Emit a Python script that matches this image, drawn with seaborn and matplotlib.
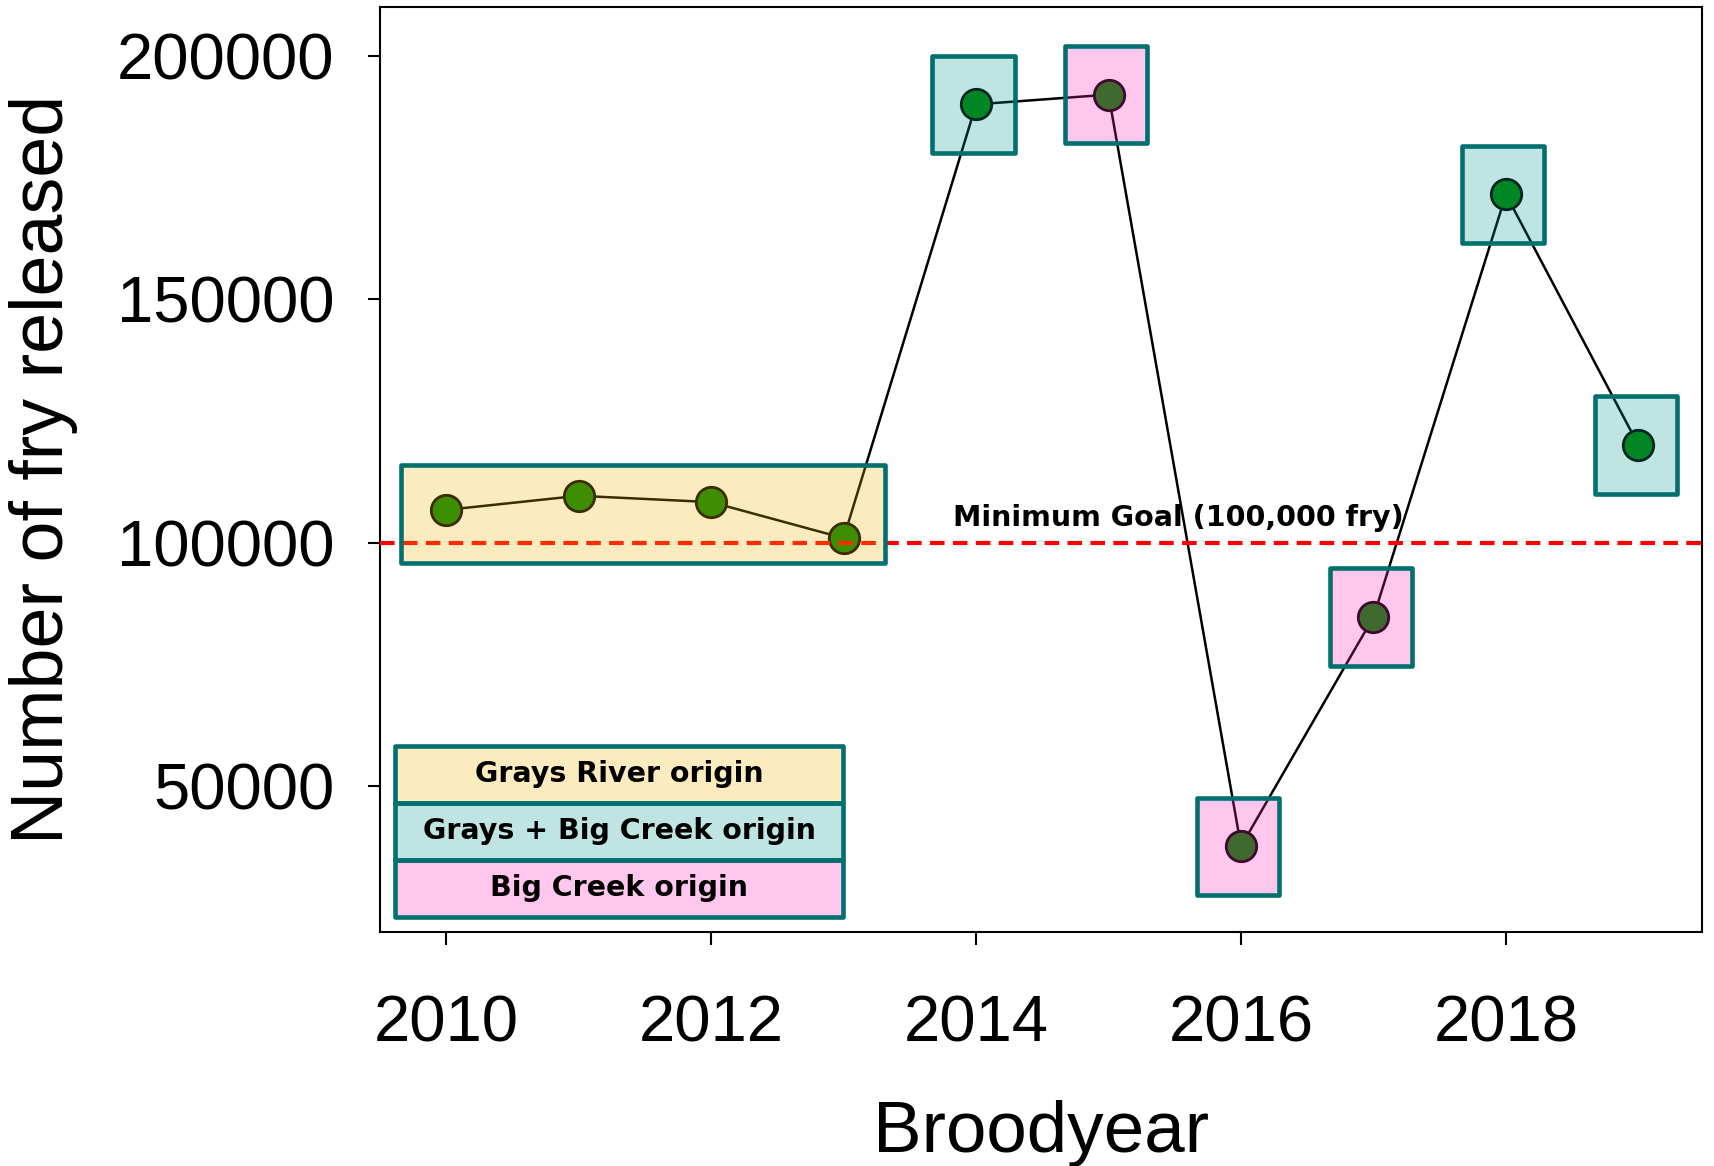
import matplotlib
matplotlib.use("Agg")
import matplotlib.pyplot as plt
import seaborn as sns
import pandas as pd
from matplotlib.patches import Rectangle

# Fry released per broodyear
broodyear = [2010, 2011, 2012, 2013, 2014, 2015, 2016, 2017, 2018, 2019]
fry_released = [106700, 109600, 108300, 100900, 190000, 192000, 37600, 84700, 171500, 120000]
origin = ["Grays River origin"] * 4 + [
    "Grays + Big Creek origin", "Big Creek origin", "Big Creek origin",
    "Big Creek origin", "Grays + Big Creek origin", "Grays + Big Creek origin"]

legend_labels = ["Grays River origin", "Grays + Big Creek origin", "Big Creek origin"]
legend_fills = [(0.97, 0.70, 0.0, 0.25), (0.0, 0.59, 0.56, 0.25), (1.0, 0.13, 0.73, 0.25)]
fill_by_origin = dict(zip(legend_labels, legend_fills))

goal = 100000
goal_label = "Minimum Goal (100,000 fry)"

df = pd.DataFrame({"year": broodyear, "fry": fry_released, "origin": origin})

sns.set_style("white")
plt.rcParams["font.family"] = ["Liberation Sans", "DejaVu Sans"]
plt.rcParams["text.color"] = "black"
plt.rcParams["axes.labelcolor"] = "black"
plt.rcParams["xtick.color"] = "black"
plt.rcParams["ytick.color"] = "black"

fig = plt.figure(figsize=(17.14, 11.66), dpi=100)
ax = fig.add_axes([0.2217, 0.2007, 0.7713, 0.7933])

edge = "#00706e"

# line + points
sns.lineplot(data=df, x="year", y="fry", color="black", linewidth=1.8, ax=ax, zorder=2)
sns.scatterplot(data=df, x="year", y="fry", color="#008200", edgecolor="black",
                linewidth=2.0, s=480, ax=ax, zorder=3)

# goal line
ax.axhline(goal, color="red", linestyle=(0, (3.5, 2)), linewidth=3, zorder=4)
ax.text(2015.53, goal + 5000, goal_label, ha="center", va="center", fontsize=20.5,
        fontweight="bold", family="DejaVu Sans", zorder=6)

# translucent origin boxes over the points
grays = df[df["origin"] == "Grays River origin"]
x0, x1 = grays["year"].min() - 0.34, grays["year"].max() + 0.31
y0, y1 = grays["fry"].min() - 5200, grays["fry"].max() + 6300
ax.add_patch(Rectangle((x0, y0), x1 - x0, y1 - y0, facecolor=fill_by_origin["Grays River origin"],
                       edgecolor=edge, linewidth=3.3, zorder=5, joinstyle="round"))
for _, row in df[df["origin"] != "Grays River origin"].iterrows():
    ax.add_patch(Rectangle((row["year"] - 0.33, row["fry"] - 10000), 0.62, 20000,
                           facecolor=fill_by_origin[row["origin"]], edgecolor=edge,
                           linewidth=3.3, zorder=5, joinstyle="round"))

# legend-style key in lower left
row_h = 0.0617
for i, (lab, fc) in enumerate(zip(legend_labels, legend_fills)):
    yb = 0.0165 + (2 - i) * row_h
    ax.add_patch(Rectangle((0.0116, yb), 0.3384, row_h, transform=ax.transAxes,
                           facecolor=fc, edgecolor=edge, linewidth=3.3, zorder=7,
                           joinstyle="round"))
    ax.text(0.0116 + 0.3384 / 2, yb + row_h / 2, lab, transform=ax.transAxes,
            ha="center", va="center", fontsize=20.5, fontweight="bold",
            family="DejaVu Sans", zorder=8)

ax.set_xlim(2009.5, 2019.48)
ax.set_ylim(20000, 210000)
ax.set_xticks([2010, 2012, 2014, 2016, 2018])
ax.set_yticks([50000, 100000, 150000, 200000])
ax.set_yticklabels(["50000", "100000", "150000", "200000"])
ax.tick_params(axis="both", direction="out", length=9, width=1.5, labelsize=47,
               bottom=True, left=True)
ax.tick_params(axis="y", pad=24)
ax.tick_params(axis="x", pad=36)
for s in ax.spines.values():
    s.set_linewidth(1.5)
    s.set_color("black")

ax.set_xlabel("Broodyear", fontsize=52.5, labelpad=33)
ax.set_ylabel("Number of fry released", fontsize=53, labelpad=28)

plt.savefig("out.png", dpi=100)
plt.close()
